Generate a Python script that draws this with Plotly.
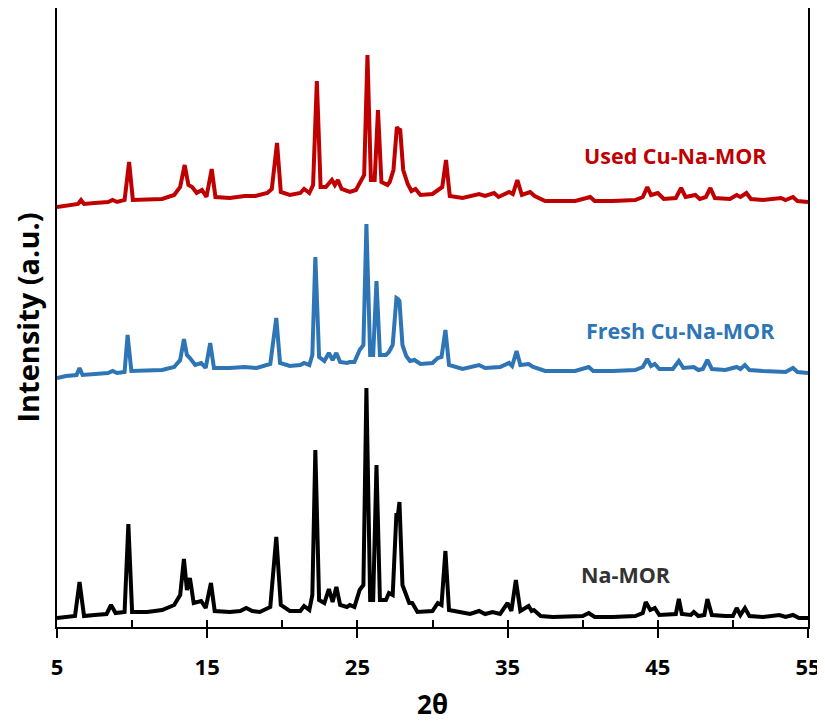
import plotly.graph_objects as go

# ---------------- data ----------------
na_two_theta = [5.0, 5.5, 6.2, 6.5, 6.8, 7.5, 8.3, 8.6, 8.9, 9.5, 9.75, 10.0, 11.0, 12.0, 12.8, 13.2, 13.45, 13.65,
                13.85, 14.1, 14.6, 14.9, 15.25, 15.5, 16.5, 17.2, 17.6, 18.0, 18.5, 19.2, 19.6, 19.9, 20.5, 21.2,
                21.45, 21.8, 22.0, 22.2, 22.45, 22.8, 23.1, 23.35, 23.6, 23.85, 24.3, 24.5, 24.8, 25.15, 25.4,
                25.6, 25.85, 26.05, 26.27, 26.5, 26.9, 27.1, 27.35, 27.6, 27.7, 27.8, 28.0, 28.25, 28.45, 28.65,
                29.0, 30.0, 30.35, 30.6, 30.86, 31.1, 32.0, 32.5, 33.1, 33.5, 34.0, 34.5, 35.0, 35.25, 35.55,
                35.85, 36.4, 36.6, 36.75, 37.2, 38.0, 39.0, 40.0, 40.4, 40.8, 42.0, 43.5, 44.0, 44.2, 44.5, 44.8,
                45.1, 45.8, 46.2, 46.4, 46.6, 47.2, 47.4, 47.7, 48.1, 48.3, 48.6, 49.5, 50.0, 50.25, 50.5, 50.8,
                51.1, 52.0, 53.1, 53.5, 54.0, 54.4, 55.0]
na_intensity = [7, 8, 9, 43, 9, 10, 11, 20, 12, 13, 101, 13, 13, 15, 20, 30, 66, 35,
                47, 22, 24, 17, 42, 14, 13, 14, 17, 14, 13, 18, 88, 20, 14, 14,
                19, 15, 30, 175, 25, 22, 36, 23, 38, 20, 18, 20, 18, 35, 40,
                237, 25, 25, 160, 25, 25, 32, 30, 112, 110, 123, 40, 30, 22, 22,
                13, 14, 22, 20, 74, 15, 13, 11, 14, 11, 13, 11, 22, 14, 45,
                14, 19, 14, 15, 9, 8, 8, 9, 12, 8, 8, 9, 12, 23, 15, 17,
                10, 10, 11, 26, 11, 10, 13, 9, 10, 26, 10, 9, 9, 17, 10, 17,
                9, 8, 10, 8, 10, 7, 7]

fresh_two_theta = [5.0, 5.6, 6.3, 6.5, 6.7, 7.5, 8.4, 8.7, 9.0, 9.5, 9.7, 9.95, 11.0, 12.0, 12.8, 13.2, 13.45, 13.65,
                   13.85, 14.2, 14.6, 14.9, 15.2, 15.45, 16.5, 17.5, 18.3, 19.2, 19.6, 19.85, 20.5, 21.2, 21.45,
                   21.8, 22.0, 22.2, 22.45, 22.8, 23.1, 23.35, 23.6, 23.85, 24.3, 24.5, 24.8, 25.15, 25.4, 25.6,
                   25.85, 26.05, 26.27, 26.5, 26.9, 27.1, 27.35, 27.6, 27.7, 27.8, 28.0, 28.25, 28.5, 28.8, 29.2,
                   30.0, 30.35, 30.6, 30.86, 31.1, 32.0, 33.1, 33.5, 34.0, 34.5, 35.1, 35.3, 35.6, 35.85, 36.4,
                   36.7, 37.5, 38.5, 39.5, 40.4, 40.7, 42.0, 43.5, 44.0, 44.3, 44.55, 44.8, 45.1, 46.0, 46.4, 46.7,
                   47.4, 47.7, 48.0, 48.3, 48.6, 49.5, 50.25, 50.5, 50.8, 51.1, 52.0, 53.1, 53.5, 54.0, 54.3, 55.0]
fresh_intensity = [7, 9, 10, 17, 10, 11, 12, 14, 12, 13, 50, 14, 14, 15, 18, 25, 46, 30,
                   27, 20, 22, 17, 42, 17, 17, 18, 17, 21, 67, 22, 19, 20, 22,
                   20, 30, 128, 28, 24, 32, 25, 32, 23, 22, 23, 23, 35, 40, 161,
                   30, 30, 104, 30, 30, 33, 40, 87, 86, 84, 40, 29, 24, 25, 21,
                   22, 27, 28, 55, 20, 16, 20, 17, 18, 18, 22, 19, 34, 20, 21,
                   18, 14, 14, 14, 18, 14, 14, 15, 18, 26, 19, 21, 16, 16, 24, 17,
                   18, 15, 16, 25, 16, 15, 18, 16, 20, 15, 14, 14, 13, 17, 13, 12]

used_two_theta = [5.0, 5.8, 6.4, 6.6, 6.8, 7.5, 8.4, 8.7, 9.0, 9.5, 9.8, 10.05, 11.0, 12.0, 12.8, 13.2, 13.5, 13.75,
                  14.0, 14.3, 14.65, 14.95, 15.3, 15.55, 16.5, 17.5, 18.2, 19.0, 19.3, 19.65, 19.9, 20.5, 21.2,
                  21.45, 21.8, 22.05, 22.3, 22.55, 22.9, 23.3, 23.5, 23.7, 23.95, 24.5, 24.9, 25.3, 25.45, 25.67,
                  25.9, 26.15, 26.37, 26.6, 27.0, 27.15, 27.4, 27.63, 27.72, 27.85, 28.05, 28.35, 28.6, 28.87,
                  29.2, 30.0, 30.46, 30.65, 30.9, 31.15, 32.0, 33.1, 33.5, 34.1, 34.4, 35.1, 35.35, 35.65, 35.95,
                  36.5, 36.8, 37.5, 38.5, 39.5, 40.5, 40.8, 42.0, 43.5, 44.0, 44.3, 44.55, 45.0, 45.4, 46.2, 46.55,
                  46.85, 47.5, 47.8, 48.2, 48.5, 48.8, 49.8, 50.25, 50.5, 50.9, 51.2, 52.0, 53.2, 53.5, 54.0, 54.3,
                  55.0]
used_intensity = [8, 10, 11, 15, 11, 12, 13, 15, 13, 15, 53, 15, 15, 16, 20, 28, 50, 30,
                  28, 22, 25, 18, 46, 18, 17, 19, 19, 22, 26, 72, 23, 20, 22,
                  26, 22, 30, 134, 28, 28, 35, 30, 35, 26, 23, 25, 37, 40, 160,
                  35, 35, 105, 33, 30, 33, 45, 88, 86, 85, 45, 31, 24, 26,
                  20, 21, 26, 28, 55, 19, 17, 21, 19, 22, 18, 23, 21, 35, 20,
                  23, 19, 14, 14, 14, 18, 14, 14, 15, 18, 28, 20, 22, 16, 17, 27,
                  18, 20, 16, 18, 27, 17, 16, 20, 18, 22, 16, 15, 17, 15, 18, 14,
                  13]

series_names = ["Na-MOR", "Fresh Cu-Na-MOR", "Used Cu-Na-MOR"]
x_tick_values = [5, 15, 25, 35, 45, 55]

# ---------------- styling / layout ----------------
offsets = [0, 240, 410]
colors = ["#000000", "#2E75B6", "#C00000"]
label_colors = ["#333333", "#2E75B6", "#C00000"]
label_pos = [(42.9, 51), (46.5, 295), (46.2, 470)]
FONT = "Open Sans"

fig = go.Figure()
for name, xs, ys, off, col in zip(series_names,
                                  [na_two_theta, fresh_two_theta, used_two_theta],
                                  [na_intensity, fresh_intensity, used_intensity],
                                  offsets, colors):
    fig.add_trace(go.Scatter(x=xs, y=[v + off for v in ys], mode="lines", name=name,
                             line=dict(color=col, width=4, shape="linear"),
                             showlegend=False, hoverinfo="x+y"))

# dummy trace to activate the overlay axis carrying the inner ticks
fig.add_trace(go.Scatter(x=[5, 55], y=[None, None], xaxis="x2", mode="lines",
                         showlegend=False, hoverinfo="skip"))

for name, (lx, ly), lc in zip(series_names, label_pos, label_colors):
    fig.add_annotation(x=lx, y=ly, text="<b>%s</b>" % name, showarrow=False,
                       font=dict(family=FONT, size=21.5, color=lc),
                       xanchor="center", yanchor="middle")

fig.update_layout(
    width=817, height=714,
    margin=dict(l=49, r=17, t=0, b=95, autoexpand=False),
    plot_bgcolor="white", paper_bgcolor="white",
    font=dict(family=FONT, color="#000000"),
    xaxis=dict(range=[5, 55], tickvals=x_tick_values, ticks="outside", ticklen=9,
               tickwidth=1.5, tickcolor="black", showline=True, linecolor="black",
               linewidth=1.5, showgrid=False, zeroline=False,
               tickfont=dict(family=FONT, size=22, color="#000000", weight="bold"),
               ticklabelstandoff=11,
               title=dict(text="<b>2θ</b>", font=dict(family=FONT, size=26, color="#000000"),
                          standoff=24),
               automargin=False),
    xaxis2=dict(range=[5, 55], overlaying="x", side="bottom", anchor="y",
                tickvals=list(range(5, 56, 5)), ticks="inside", ticklen=7,
                tickwidth=1.5, tickcolor="black", showticklabels=False,
                showline=False, showgrid=False, zeroline=False),
    yaxis=dict(range=[-2, 617], showticklabels=False, ticks="", showgrid=False,
               zeroline=False, showline=True, mirror=True, linecolor="black",
               linewidth=1.5,
               title=dict(text="<b>Intensity (a.u.)</b>",
                          font=dict(family=FONT, size=29, color="#000000"), standoff=19),
               automargin=False),
)

fig.write_html("out.html")
